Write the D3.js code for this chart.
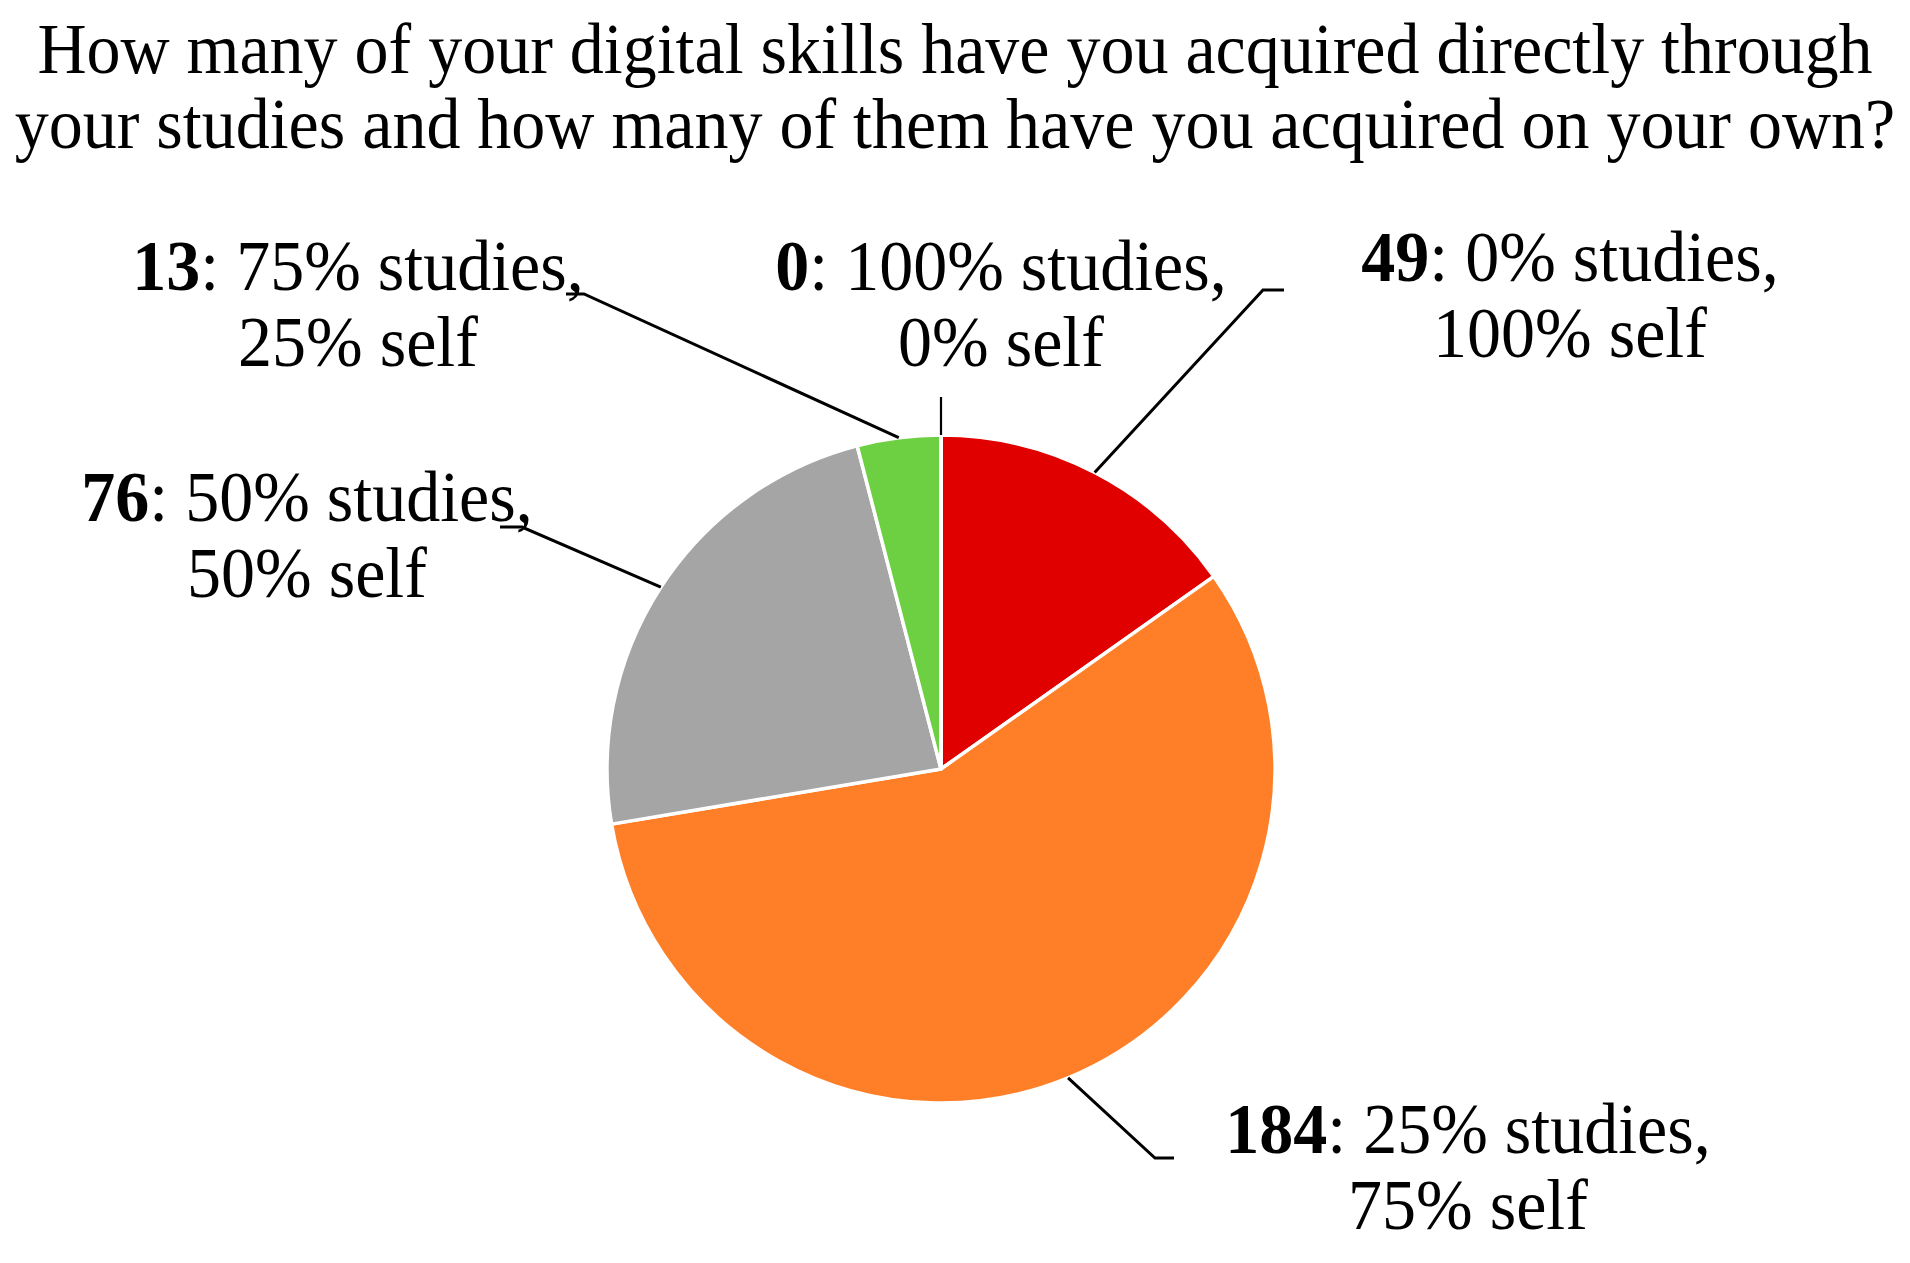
<!DOCTYPE html>
<html>
<head>
<meta charset="utf-8">
<script src="https://cdn.jsdelivr.net/npm/d3@7"></script>
<style>
  body { margin: 0; background: #fff; }
  text { font-family: "Liberation Serif", "Times New Roman", serif; fill: #000; }
</style>
</head>
<body>
<div id="chart"></div>
<script>
// data
var counts = [49, 184, 76, 13, 0];
var studiesPct = [0, 25, 50, 75, 100];
var selfPct = [100, 75, 50, 25, 0];
var sliceColors = ["#e00000", "#fe7f27", "#a5a5a5", "#6dd042", "#ffffff"];
var titleLines = ["How many of your digital skills have you acquired directly through",
                  "your studies and how many of them have you acquired on your own?"];

// label placement: centre x, first baseline
var labelPos = [[1570, 281], [1468, 1153], [307, 521], [358, 290], [1001, 290]];
// leader line points on the label side (outer end first)
var leaderElbow = [
    [[1284, 290], [1263, 290]],
    [[1174, 1158], [1155, 1158]],
    [[500, 527], [522, 527]],
    [[566, 294], [584, 294]],
    [[941, 397], [941, 397]]
];

var width = 1910, height = 1263;
var cx = 941, cy = 769, radius = 334;
var fontSize = 68, lineGap = 76, stretch = 1.07;

var svg = d3.select("#chart").append("svg")
    .attr("width", width)
    .attr("height", height);

// title (the source type is a little taller than Times at this width)
svg.append("g").selectAll("text")
    .data(titleLines)
  .enter().append("text")
    .attr("transform", function(d, i) {
        return "translate(955," + (73 + i * 75) + ") scale(1," + stretch + ")";
    })
    .attr("text-anchor", "middle")
    .style("font-size", fontSize + "px")
    .text(function(d) { return d; });

var pie = d3.pie().sort(null).value(function(d) { return d; });
var arcs = pie(counts);

var arc = d3.arc().innerRadius(0).outerRadius(radius);
var edge = d3.arc().innerRadius(radius).outerRadius(radius);

var g = svg.append("g")
    .attr("transform", "translate(" + cx + "," + cy + ")");

g.selectAll("path.slice")
    .data(arcs)
  .enter().append("path")
    .attr("class", "slice")
    .attr("d", arc)
    .attr("fill", function(d, i) { return sliceColors[i]; })
    .attr("stroke", "#fff")
    .attr("stroke-width", 3.5)
    .attr("stroke-linejoin", "round");

// leader lines
var line = d3.line();
svg.append("g").selectAll("path")
    .data(arcs)
  .enter().append("path")
    .attr("d", function(d, i) {
        var p = edge.centroid(d);
        var pts = leaderElbow[i].concat([[cx + p[0], cy + p[1]]]);
        return line(pts);
    })
    .attr("fill", "none")
    .attr("stroke", "#000")
    .attr("stroke-width", function(d) { return d.value === 0 ? 2.2 : 3; });

// labels
var labels = svg.append("g").selectAll("text")
    .data(arcs)
  .enter().append("text")
    .attr("transform", function(d, i) {
        return "translate(" + labelPos[i][0] + "," + labelPos[i][1] + ") scale(1," + stretch + ")";
    })
    .attr("text-anchor", "middle")
    .style("font-size", fontSize + "px");

labels.each(function(d, i) {
    var t = d3.select(this);
    var l1 = t.append("tspan")
        .attr("x", 0)
        .attr("y", 0);
    l1.append("tspan").style("font-weight", "bold").text(counts[i]);
    l1.append("tspan").text(": " + studiesPct[i] + "% studies,");
    t.append("tspan")
        .attr("x", 0)
        .attr("y", lineGap / stretch)
        .text(selfPct[i] + "% self");
});
</script>
</body>
</html>
